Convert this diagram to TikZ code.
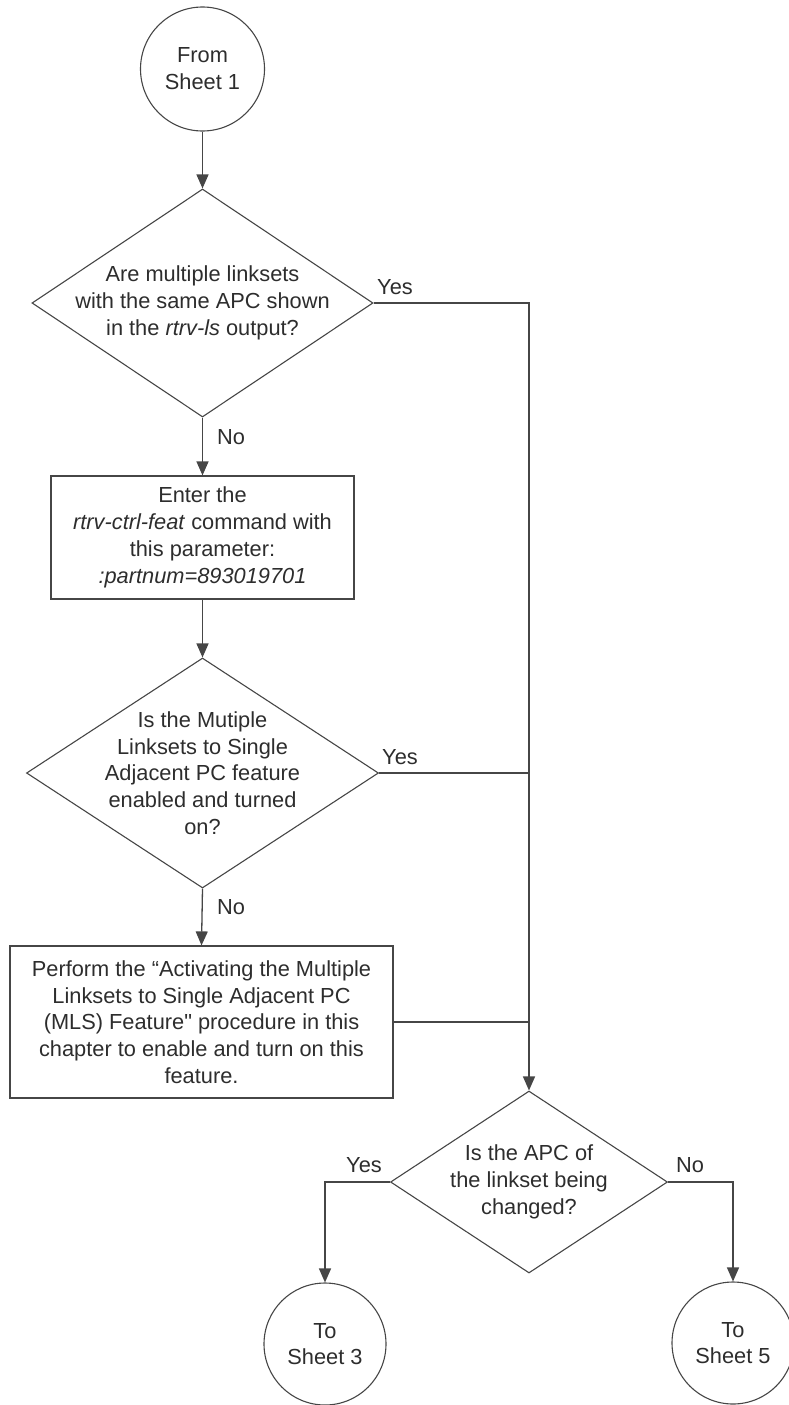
\documentclass[tikz,border=0pt]{standalone}
\usepackage{fontspec}
\setmainfont{Liberation Sans}[Ligatures=TeXOff]
\usetikzlibrary{shapes.geometric,arrows.meta}
\definecolor{inkline}{RGB}{70,70,70}
\definecolor{inktext}{RGB}{45,45,45}
\begin{document}
\begin{tikzpicture}[x=1pt,y=-1pt,
  every node/.style={font=\fontsize{21.8}{26.8}\selectfont, text=inktext},
  conn/.style={draw=inkline, line width=1.3pt},
  flow/.style={conn, -{Triangle[width=12pt,length=14pt]}},
  terminal/.style={circle, draw=inkline, line width=1.1pt, minimum size=#1, inner sep=0pt, align=center},
  decision/.style={diamond, draw=inkline, line width=1.1pt, inner sep=0pt},
  process/.style={rectangle, draw=inkline, line width=1.2pt, inner sep=0pt, align=center},
  qtext/.style={align=center, inner sep=0pt},
  lbl/.style={inner sep=0pt}]
\useasboundingbox (0,0) rectangle (788,1405);

% terminals
\node[terminal=124pt] (c1) at (202.5,69) {From\\Sheet 1};
\node[terminal=122pt] (c3) at (325,1344) {To\\Sheet 3};
\node[terminal=122pt] (c5) at (733,1343) {To\\Sheet 5};

% decisions
\node[decision, minimum width=341pt, minimum height=228pt] (d1) at (202.5,303) {};
\node[qtext] (d1t) at (d1.center) {Are multiple linksets\\with the same APC shown\\in the \textit{rtrv-ls} output?};

\node[decision, minimum width=352pt, minimum height=230pt] (d2) at (202.5,773) {};
\node[qtext] (d2t) at (d2.center) {Is the Mutiple\\Linksets to Single\\Adjacent PC feature\\enabled and turned\\on?};

\node[decision, minimum width=277pt, minimum height=182pt] (d3) at (529,1182) {};
\node[qtext] (d3t) at (d3.center) {Is the APC of\\the linkset being\\changed?};

% processes
\node[process, minimum width=303pt, minimum height=123pt] (b1) at (202.5,537.5)
  {Enter the\\\textit{rtrv-ctrl-feat} command with\\this parameter:\\\textit{:partnum=893019701}};
\node[process, minimum width=383pt, minimum height=152pt] (b2) at (201.5,1022)
  {Perform the “Activating the Multiple\\Linksets to Single Adjacent PC\\(MLS) Feature" procedure in this\\chapter to enable and turn on this\\feature.};

% connectors
\draw[flow] (c1.south) -- (d1.north);
\draw[flow] (d1.east) -| (d3.north);
\draw[flow] (d1.south) -- (b1.north);
\draw[flow] (b1.south) -- (d2.north);
\draw[conn] (d2.east) -- (d2.east -| d3.north);
\draw[flow] (d2.south) -- (b2.north);
\draw[conn] (b2.east) -- (b2.east -| d3.north);
\draw[flow] (d3.west) -| (c3.north);
\draw[flow] (d3.east) -| (c5.north);

% branch labels
\node[lbl] (y1) at (395,287) {Yes};
\node[lbl] (n1) at (231,437) {No};
\node[lbl] (y2) at (400,757) {Yes};
\node[lbl] (n2) at (231,907) {No};
\node[lbl] (y3) at (364,1165) {Yes};
\node[lbl] (n3) at (690,1165) {No};
\end{tikzpicture}
\end{document}
